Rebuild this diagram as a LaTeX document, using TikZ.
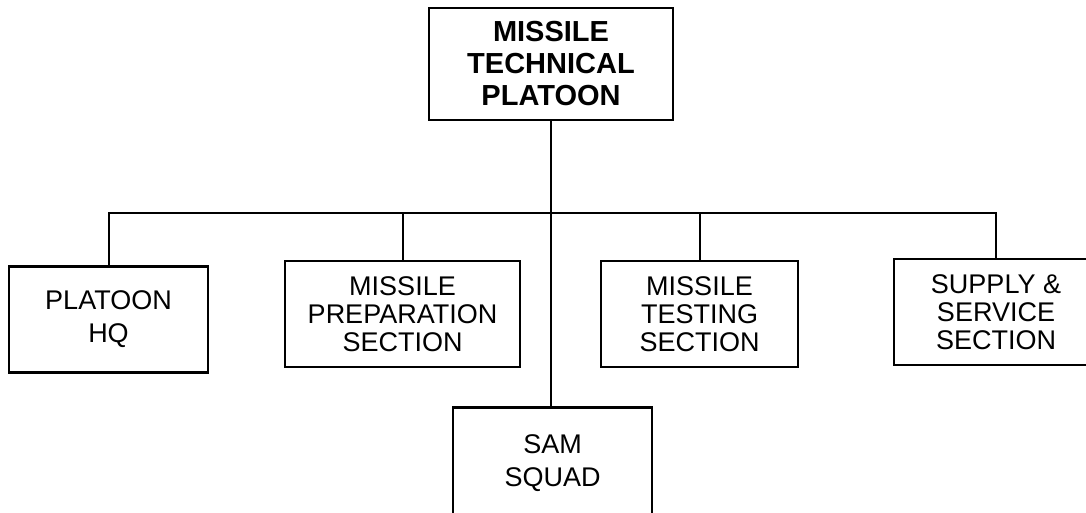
\documentclass[tikz,border=0pt]{standalone}
\usepackage{fontspec}
\setmainfont{Liberation Sans}
\usetikzlibrary{positioning}

\begin{document}
\begin{tikzpicture}[
    x=1pt, y=1pt,
    link/.style={line width=2pt},
    unit/.style={
        rectangle,
        draw=black,
        line width=2.5pt,
        inner sep=0pt,
        minimum height=106pt,
        align=center,
        font=\fontsize{27}{28}\selectfont
    },
    shortunit/.style={unit, font=\fontsize{27}{33}\selectfont},
    command/.style={unit, minimum width=244pt, minimum height=112pt,
        font=\fontsize{29}{32}\selectfont\bfseries}
]
\useasboundingbox (0,0) rectangle (1086,512);

\node[command] (plt) at (551,448) {MISSILE\\TECHNICAL\\PLATOON};

\node[shortunit, minimum width=199pt] (hq) at (108.5,192.5) {PLATOON\\HQ};
\node[unit, minimum width=235pt] (prep) at (402.5,198) {MISSILE\\PREPARATION\\SECTION};
\node[unit, minimum width=197pt] (test) at (699.5,198) {MISSILE\\TESTING\\SECTION};
\node[unit, minimum width=204pt] (supply) at (996,200) {SUPPLY \&\\SERVICE\\SECTION};
\node[shortunit, minimum width=199pt, minimum height=112pt] (sam) at (552.5,48.5) {SAM\\SQUAD};

\coordinate (bus) at (0,299);

\draw[link] (plt.south) -- (plt.south |- sam.north);
\draw[link] (hq.north) |- (supply.north |- bus) -- (supply.north);
\draw[link] (prep.north) -- (prep.north |- bus);
\draw[link] (test.north) -- (test.north |- bus);

\end{tikzpicture}
\end{document}
